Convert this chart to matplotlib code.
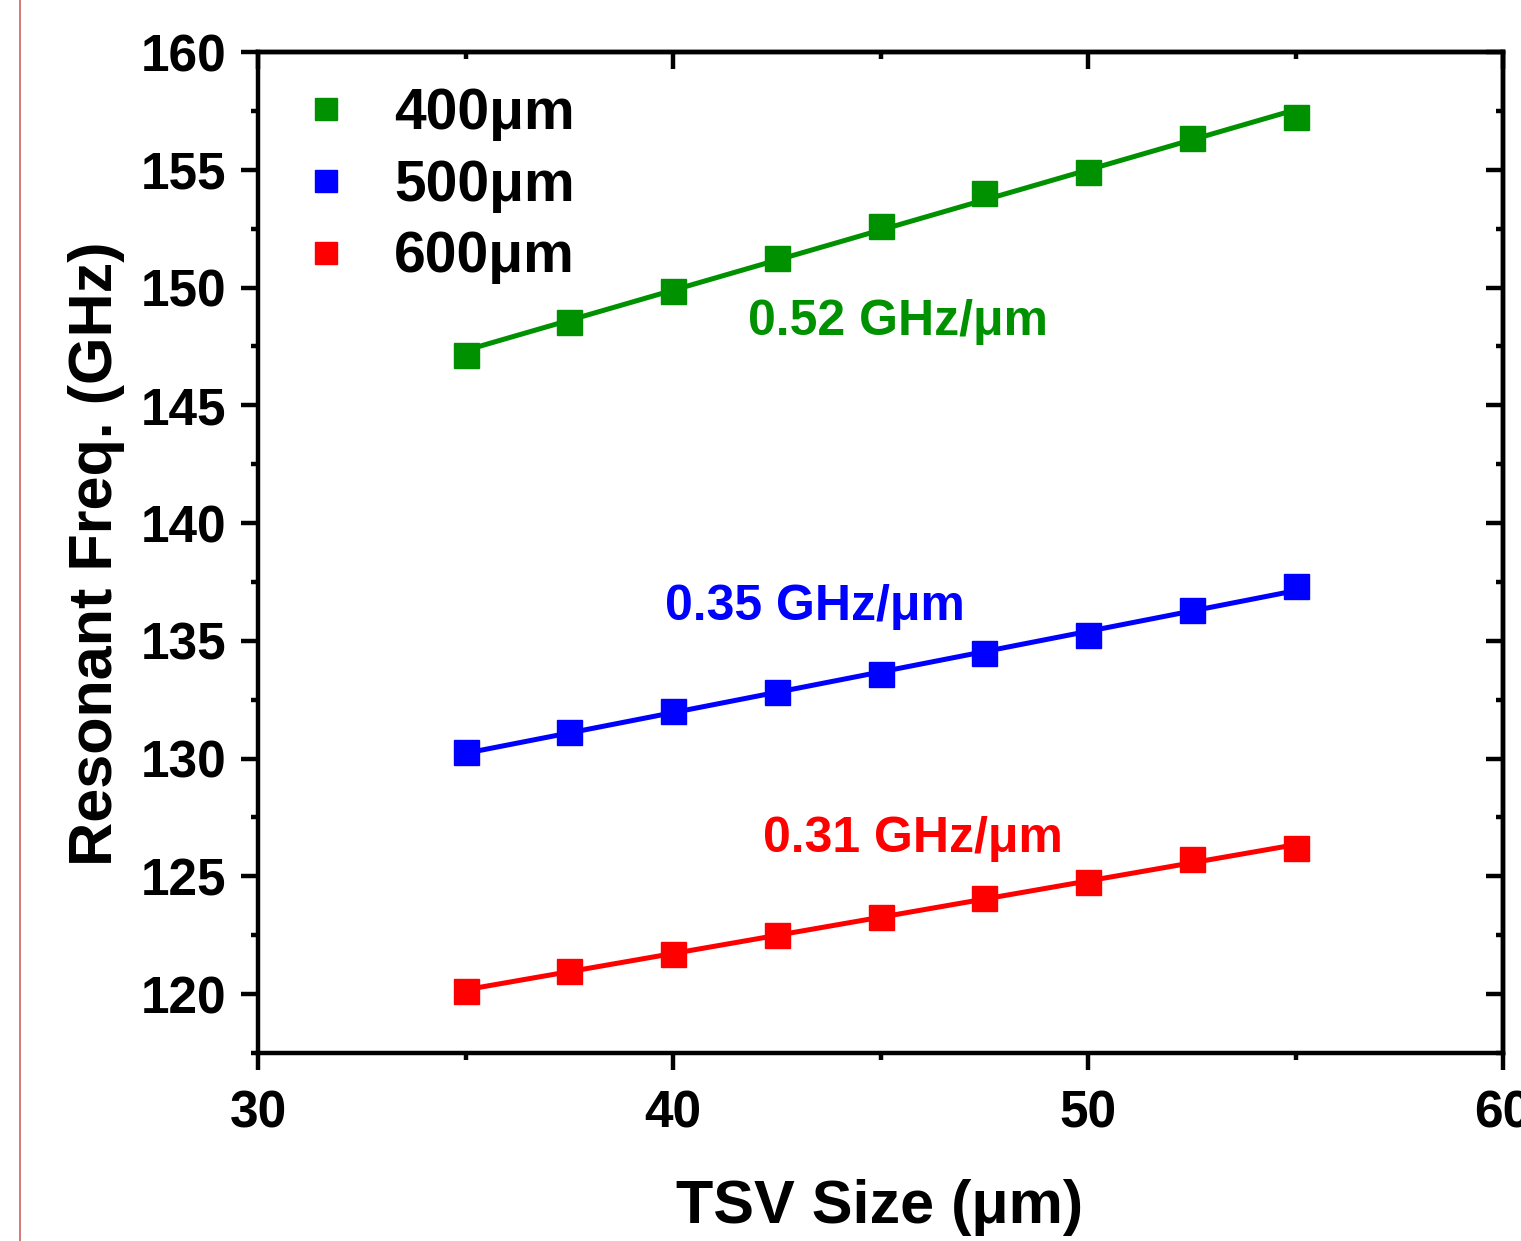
import matplotlib
matplotlib.use("Agg")
import matplotlib.pyplot as plt
from matplotlib.lines import Line2D
from matplotlib.ticker import MultipleLocator
import numpy as np

plt.rcParams['font.family'] = ['Liberation Sans', 'DejaVu Sans']
plt.rcParams['font.weight'] = 'bold'

tsv_size = [35, 37.5, 40, 42.5, 45, 47.5, 50, 52.5, 55]
f_400 = [147.15, 148.55, 149.86, 151.26, 152.62, 154.02, 154.91, 156.35, 157.24]
f_500 = [130.27, 131.12, 132.01, 132.82, 133.58, 134.47, 135.23, 136.29, 137.31]
f_600 = [120.14, 120.98, 121.70, 122.51, 123.27, 124.08, 124.76, 125.74, 126.20]
labels = ['400μm', '500μm', '600μm']
slopes = ['0.52 GHz/μm', '0.35 GHz/μm', '0.31 GHz/μm']
colors = ['#009100', '#0000FF', '#FF0000']

fig = plt.figure(figsize=(15.21, 12.41), dpi=100)
ax = fig.add_axes([258/1521, 1-1053/1241, (1503-258)/1521, (1053-52)/1241])

xs = np.array(tsv_size)
for y, c in zip([f_400, f_500, f_600], colors):
    k, b = np.polyfit(xs, y, 1)
    ax.plot(xs, k * xs + b, color=c, lw=3.6, zorder=2)
    ax.plot(xs, y, ls='none', marker='s', ms=18, mec=c, mfc=c, zorder=3)

ax.set_xlim(30, 60)
ax.set_ylim(117.5, 160)
ax.xaxis.set_major_locator(MultipleLocator(10))
ax.xaxis.set_minor_locator(MultipleLocator(5))
ax.yaxis.set_major_locator(MultipleLocator(5))
ax.yaxis.set_minor_locator(MultipleLocator(2.5))

for s in ax.spines.values():
    s.set_linewidth(3.2)

ax.tick_params(which='major', direction='out', length=12, width=3.2, labelsize=37)
ax.tick_params(axis='y', which='major', pad=11)
ax.tick_params(axis='x', which='major', pad=14)
ax.tick_params(which='minor', direction='out', length=5, width=3.2)
for t in ax.get_xticklabels() + ax.get_yticklabels():
    t.set_fontweight('bold')

top = ax.secondary_xaxis('top')
top.xaxis.set_major_locator(MultipleLocator(10))
top.xaxis.set_minor_locator(MultipleLocator(5))
top.tick_params(which='major', direction='in', length=12, width=3.2, labeltop=False)
top.tick_params(which='minor', direction='in', length=5, width=3.2)
top.spines['top'].set_linewidth(3.2)
right = ax.secondary_yaxis('right')
right.yaxis.set_major_locator(MultipleLocator(5))
right.yaxis.set_minor_locator(MultipleLocator(2.5))
right.tick_params(which='major', direction='in', length=12, width=3.2, labelright=False)
right.tick_params(which='minor', direction='in', length=5, width=3.2)
right.spines['right'].set_linewidth(3.2)

ax.set_xlabel('TSV Size (μm)', fontsize=44, fontweight='bold')
ax.set_ylabel('Resonant Freq. (GHz)', fontsize=44, fontweight='bold')
ax.xaxis.set_label_coords(0.4996, -0.126)
ax.yaxis.set_label_coords(-0.107, 0.499)

handles = [Line2D([], [], ls='none', marker='s', ms=16.5, color=c) for c in colors]
leg = ax.legend(handles, labels, loc='upper left', bbox_to_anchor=(0.004, 0.999),
                frameon=False, prop={'size': 41, 'weight': 'bold'},
                handlelength=1.0, handletextpad=0.7, labelspacing=0.31, borderaxespad=0.2)

ann_pos = [(41.8, 148.55), (39.8, 136.42), (42.17, 126.58)]
for (x, y), txt, c in zip(ann_pos, slopes, colors):
    ax.text(x, y, txt, color=c, fontsize=36, fontweight='bold', ha='left', va='center')

fig.add_artist(Line2D([19.5/1521, 19.5/1521], [0, 1], color='#D06060', lw=1.2))

fig.savefig('out.png', dpi=100, facecolor='white')
